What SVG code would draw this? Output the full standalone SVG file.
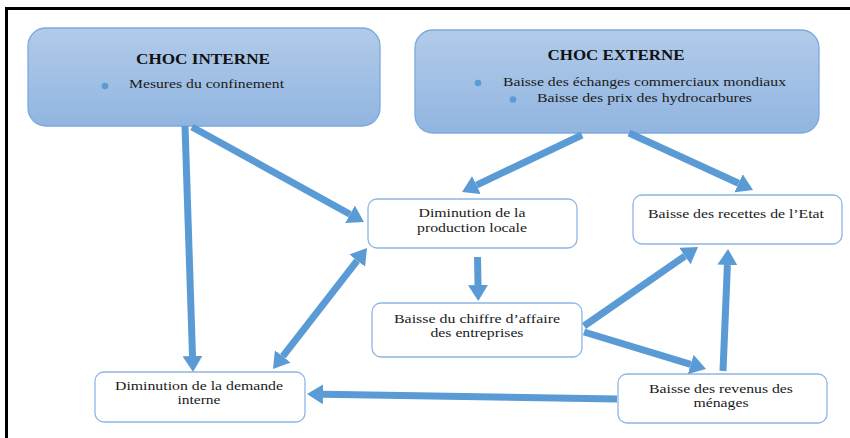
<svg xmlns="http://www.w3.org/2000/svg" width="850" height="438" viewBox="0 0 850 438">
<defs>
<linearGradient id="blueFill" x1="0" y1="0" x2="0" y2="1">
<stop offset="0" stop-color="#b1cbea"/>
<stop offset="1" stop-color="#91b5e0"/>
</linearGradient>
<marker id="head" markerUnits="userSpaceOnUse" markerWidth="16" markerHeight="20" refX="0" refY="10" orient="auto-start-reverse" viewBox="0 0 16 20">
<path d="M0,0 L16,10 L0,20 Z" fill="#5b9bd5"/>
</marker>
</defs>
<style>
.shock{fill:url(#blueFill);stroke:#7ea9dc;stroke-width:1.3}
.box{fill:#ffffff;stroke:#8fb5e3;stroke-width:1.3}
text{font-family:'Liberation Serif','Times New Roman','DejaVu Serif',serif}
.title{font-size:14px;font-weight:bold;fill:#111}
.t{font-size:12.5px;fill:#1a1a1a}
.bullet{fill:#5b9bd5}
.arr{stroke:#5b9bd5;stroke-width:7;fill:none;marker-end:url(#head)}
.frame{stroke:#000;stroke-width:3;fill:none}
</style>
<rect width="850" height="438" fill="#ffffff"/>
<path class="frame" d="M6.5,438 V8.5 H850"/>

<g id="choc-interne">
<rect class="shock" x="28" y="28" width="352" height="98" rx="18"/>
<text class="title" x="203" y="64" text-anchor="middle" textLength="134" lengthAdjust="spacingAndGlyphs">CHOC INTERNE</text>
<circle class="bullet" cx="105" cy="86" r="3.3"/>
<text class="t" x="129" y="88" textLength="155" lengthAdjust="spacingAndGlyphs">Mesures du confinement</text>
</g>

<g id="choc-externe">
<rect class="shock" x="415" y="30" width="404" height="103" rx="18"/>
<text class="title" x="616" y="60" text-anchor="middle" textLength="137" lengthAdjust="spacingAndGlyphs">CHOC EXTERNE</text>
<circle class="bullet" cx="478" cy="83" r="3.3"/>
<text class="t" x="503" y="86" textLength="283" lengthAdjust="spacingAndGlyphs">Baisse des échanges commerciaux mondiaux</text>
<circle class="bullet" cx="513" cy="99.5" r="3.3"/>
<text class="t" x="537" y="102" textLength="215" lengthAdjust="spacingAndGlyphs">Baisse des prix des hydrocarbures</text>
</g>

<g id="production">
<rect class="box" x="368" y="199" width="209" height="49" rx="9"/>
<text class="t" x="472" y="217" text-anchor="middle" textLength="107" lengthAdjust="spacingAndGlyphs">Diminution de la</text>
<text class="t" x="472" y="232" text-anchor="middle" textLength="110" lengthAdjust="spacingAndGlyphs">production locale</text>
</g>

<g id="recettes">
<rect class="box" x="633" y="195" width="209" height="49" rx="9"/>
<text class="t" x="736" y="218" text-anchor="middle" textLength="176" lengthAdjust="spacingAndGlyphs">Baisse des recettes de l’Etat</text>
</g>

<g id="chiffre">
<rect class="box" x="372" y="303" width="210" height="54" rx="9"/>
<text class="t" x="477" y="323" text-anchor="middle" textLength="166" lengthAdjust="spacingAndGlyphs">Baisse du chiffre d’affaire</text>
<text class="t" x="477" y="337" text-anchor="middle" textLength="93" lengthAdjust="spacingAndGlyphs">des entreprises</text>
</g>

<g id="demande">
<rect class="box" x="95" y="372" width="210" height="50" rx="9"/>
<text class="t" x="199" y="390" text-anchor="middle" textLength="168" lengthAdjust="spacingAndGlyphs">Diminution de la demande</text>
<text class="t" x="199" y="404" text-anchor="middle" textLength="43" lengthAdjust="spacingAndGlyphs">interne</text>
</g>

<g id="revenus">
<rect class="box" x="618" y="374" width="209" height="49" rx="9"/>
<text class="t" x="721" y="393" text-anchor="middle" textLength="144" lengthAdjust="spacingAndGlyphs">Baisse des revenus des</text>
<text class="t" x="721" y="407" text-anchor="middle" textLength="55" lengthAdjust="spacingAndGlyphs">ménages</text>
</g>

<g id="connectors">
<line class="arr" x1="185" y1="126" x2="192.5" y2="356"/>
<line class="arr" x1="192" y1="127" x2="350" y2="214.3"/>
<line class="arr" x1="282.8" y1="356.4" x2="357.2" y2="260.6" marker-start="url(#head)"/>
<line class="arr" x1="582" y1="135" x2="476.5" y2="185.1"/>
<line class="arr" x1="629" y1="133" x2="738.5" y2="183.3"/>
<line class="arr" x1="477.5" y1="257" x2="478" y2="285"/>
<line class="arr" x1="584" y1="326" x2="684.9" y2="256.1"/>
<line class="arr" x1="584" y1="332" x2="690.7" y2="364.4"/>
<line class="arr" x1="723" y1="371" x2="727.4" y2="265"/>
<line class="arr" x1="617" y1="399" x2="323" y2="394.3"/>
</g>
</svg>
